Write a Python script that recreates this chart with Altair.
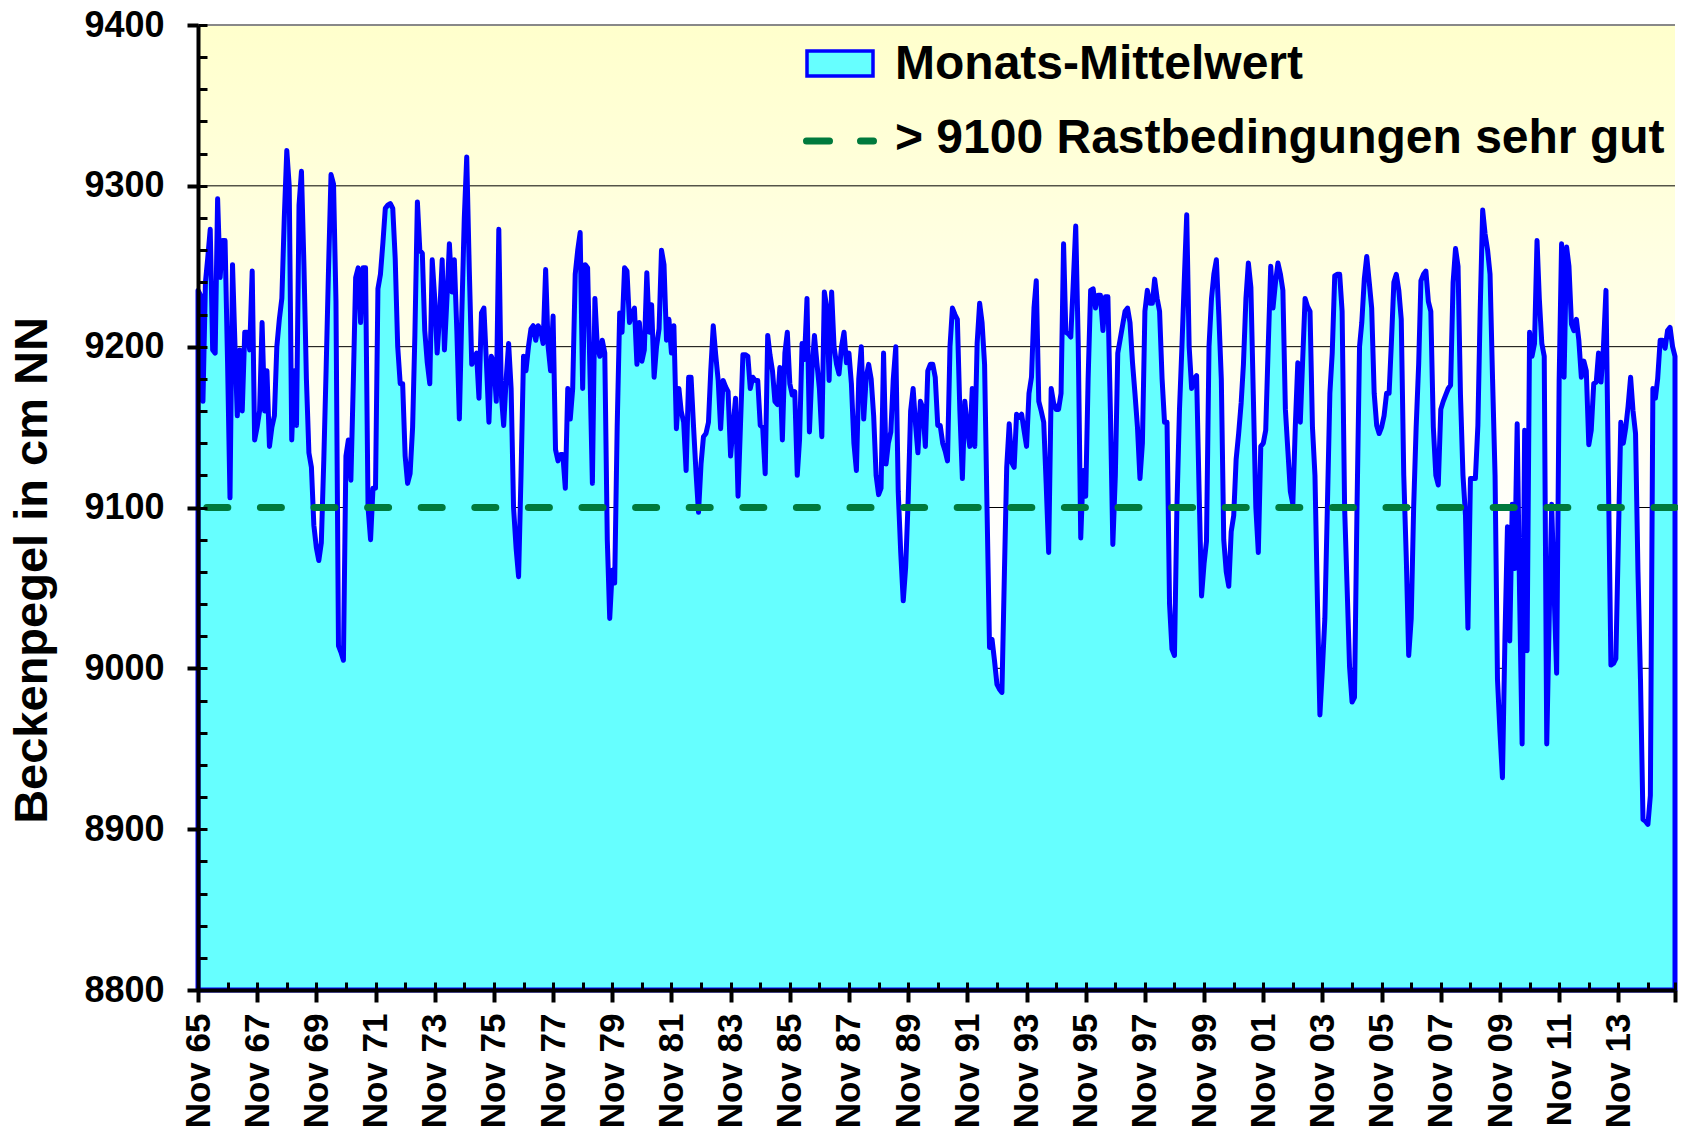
import altair as alt
import pandas as pd

# Monthly mean basin level (cm NN), Nov 1965 - Oct 2015
levels_1965_1975 = [
    9235, 9232, 9166, 9240, 9255, 9273, 9198, 9196, 9292, 9243, 9266, 9266,
    9190, 9106, 9251, 9200, 9157, 9198, 9160, 9209, 9209, 9198, 9247, 9142,
    9150, 9160, 9215, 9160, 9185, 9138, 9150, 9157, 9200, 9217, 9230, 9280,
    9322, 9300, 9142, 9185, 9151, 9288, 9309, 9250, 9180, 9134, 9125, 9089,
    9075, 9067, 9078, 9130, 9185, 9250, 9307, 9301, 9228, 9014, 9010, 9005,
    9132, 9142, 9117, 9180, 9243, 9249, 9215, 9249, 9249, 9100, 9080, 9112,
    9112, 9236, 9245, 9265, 9286, 9288, 9289, 9286, 9255, 9200, 9177, 9177,
    9132, 9115, 9121, 9150, 9207, 9290, 9260, 9258, 9210, 9190, 9177, 9254,
    9230, 9196, 9220, 9254, 9198, 9230, 9264, 9234, 9254, 9210, 9155, 9220,
    9280, 9318, 9249, 9189, 9192, 9196, 9168, 9221, 9224, 9190, 9153, 9194,
]
levels_1975_1985 = [
    9190, 9166, 9273, 9170, 9151, 9180, 9202, 9174, 9100, 9075, 9057, 9120,
    9194, 9185, 9200, 9211, 9213, 9204, 9213, 9210, 9202, 9248, 9200, 9185,
    9219, 9136, 9129, 9133, 9133, 9112, 9174, 9155, 9174, 9245, 9260, 9271,
    9174, 9251, 9249, 9180, 9115, 9230, 9200, 9194, 9204, 9196, 9080, 9031,
    9061, 9053, 9150, 9221, 9209, 9249, 9247, 9215, 9220, 9224, 9189, 9215,
    9191, 9198, 9246, 9209, 9226, 9181, 9200, 9211, 9260, 9251, 9204, 9217,
    9196, 9213, 9149, 9174, 9160, 9153, 9123, 9181, 9181, 9150, 9121, 9097,
    9127, 9144, 9146, 9153, 9185, 9213, 9195, 9179, 9149, 9179, 9175, 9172,
    9132, 9150, 9168, 9107, 9150, 9195, 9195, 9194, 9174, 9181, 9179, 9179,
    9151, 9150, 9121, 9207, 9195, 9185, 9166, 9164, 9187, 9142, 9196, 9209,
]
levels_1985_1995 = [
    9177, 9170, 9172, 9120, 9142, 9202, 9192, 9230, 9147, 9185, 9207, 9190,
    9174, 9144, 9234, 9224, 9179, 9234, 9200, 9189, 9183, 9200, 9209, 9190,
    9196, 9177, 9140, 9123, 9180, 9200, 9155, 9181, 9189, 9180, 9157, 9120,
    9108, 9112, 9196, 9127, 9140, 9147, 9180, 9200, 9110, 9072, 9042, 9063,
    9105, 9160, 9174, 9151, 9134, 9166, 9162, 9138, 9185, 9189, 9189, 9181,
    9151, 9151, 9140, 9135, 9129, 9200, 9224, 9220, 9217, 9160, 9118, 9166,
    9150, 9138, 9174, 9138, 9202, 9227, 9215, 9189, 9100, 9013, 9018, 9005,
    8990, 8987, 8985, 9060, 9125, 9152, 9128, 9125, 9158, 9156, 9158, 9148,
    9138, 9171, 9181, 9224, 9241, 9166, 9160, 9153, 9115, 9072, 9174, 9165,
    9161, 9161, 9171, 9264, 9209, 9208, 9206, 9240, 9275, 9202, 9081, 9123,
]
levels_1995_2005 = [
    9107, 9180, 9235, 9236, 9224, 9232, 9232, 9210, 9231, 9231, 9160, 9077,
    9120, 9196, 9205, 9214, 9222, 9224, 9215, 9190, 9171, 9150, 9118, 9140,
    9222, 9235, 9227, 9227, 9242, 9230, 9222, 9180, 9153, 9153, 9040, 9012,
    9008, 9100, 9160, 9200, 9240, 9282, 9200, 9174, 9180, 9182, 9110, 9045,
    9065, 9079, 9200, 9230, 9245, 9254, 9220, 9180, 9080, 9060, 9051, 9085,
    9095, 9130, 9146, 9165, 9189, 9230, 9252, 9237, 9170, 9100, 9072, 9138,
    9140, 9148, 9200, 9250, 9224, 9240, 9252, 9245, 9235, 9161, 9135, 9110,
    9102, 9150, 9190, 9153, 9190, 9230, 9225, 9222, 9150, 9120, 9040, 8971,
    9000, 9031, 9100, 9171, 9196, 9244, 9245, 9245, 9222, 9100, 9050, 9001,
    8979, 8982, 9100, 9200, 9215, 9242, 9256, 9240, 9224, 9171, 9151, 9146,
]
levels_2005_2015 = [
    9150, 9157, 9171, 9171, 9202, 9240, 9245, 9235, 9217, 9120, 9069, 9008,
    9031, 9100, 9150, 9189, 9241, 9245, 9247, 9228, 9222, 9150, 9120, 9114,
    9161, 9166, 9170, 9174, 9176, 9240, 9261, 9250, 9170, 9120, 9095, 9025,
    9118, 9118, 9118, 9151, 9222, 9285, 9270, 9260, 9245, 9180, 9120, 8993,
    8960, 8932, 9019, 9088, 9017, 9102, 9062, 9152, 9045, 8953, 9148, 9011,
    9209, 9194, 9202, 9266, 9230, 9202, 9194, 8953, 9031, 9102, 9045, 8997,
    9179, 9264, 9181, 9262, 9250, 9214, 9210, 9217, 9204, 9181, 9191, 9185,
    9139, 9148, 9177, 9178, 9196, 9178, 9200, 9235, 9120, 9002, 9003, 9006,
    9080, 9153, 9140, 9150, 9163, 9181, 9160, 9146, 9060, 8993, 8906, 8905,
    8903, 8921, 9174, 9168, 9180, 9204, 9204, 9199, 9210, 9212, 9200, 9194,
]
levels = (levels_1965_1975 + levels_1975_1985 + levels_1985_1995
          + levels_1995_2005 + levels_2005_2015)

grid_values = [8900, 9000, 9100, 9200, 9300]
top_value = [9400]
threshold = [9100]
y_major = [8800, 8900, 9000, 9100, 9200, 9300, 9400]
y_minor = list(range(8800, 9401, 20))
label_years = list(range(1965, 2014, 2))
tick_years = list(range(1965, 2015))
legend_labels = ["Monats-Mittelwert", "> 9100 Rastbedingungen sehr gut"]

months = pd.date_range("1965-11-01", periods=len(levels), freq="MS")
df = pd.DataFrame({"date": months, "level": levels})

W, H = 1477, 965
FONT = "Liberation Sans"
GREEN = "#007A3D"
CYAN = "#66FFFF"
BLUE = "#0000FF"

start = alt.DateTime(year=1965, month=11, date=1)
end = alt.DateTime(year=2015, month=10, date=1)
x_scale = alt.Scale(domain=[start, end])
y_scale = alt.Scale(domain=[8800, 9400], nice=False, zero=False)

x_major = alt.Axis(
    values=[alt.DateTime(year=y, month=11, date=1) for y in label_years] + [end],
    format="%b %y",
    labelExpr="year(datum.value) >= 2015 ? '' : datum.label",
    labelAngle=-90, labelFontSize=35, labelFont=FONT, labelFontWeight="bold",
    labelColor="black", labelPadding=11, labelOverlap=False, labelFlush=False,
    labelBound=False, tickSize=12, tickWidth=4, tickColor="black",
    domainWidth=4, domainColor="black", grid=False, title=None, zindex=2,
    orient="bottom",
)
x_minor_axis = alt.Axis(
    values=[alt.DateTime(year=y, month=11, date=1) for y in tick_years] + [end],
    labels=False, domain=False, grid=False, tickSize=8, tickWidth=3,
    tickColor="black", offset=-8, title=None, zindex=2, orient="bottom",
)
y_major_axis = alt.Axis(
    values=y_major, format="d", labelFontSize=36, labelFont=FONT,
    labelFontWeight="bold", labelColor="black", labelPadding=23, tickSize=11,
    tickWidth=4, tickColor="black", domainWidth=4, domainColor="black",
    grid=False, title="Beckenpegel in cm NN", titleFont=FONT, titleFontSize=47,
    titleFontWeight="bold", titleColor="black", titleX=-152, titleY=545,
    titleAngle=270, titleAlign="center", titleBaseline="alphabetic",
    zindex=2, orient="left",
)
y_minor_axis = alt.Axis(
    values=y_minor, labels=False, domain=False, grid=False, tickSize=9,
    tickWidth=3, tickColor="black", offset=-9, title=None, zindex=2,
    orient="left",
)

one = pd.DataFrame({"k": [0]})

bg = alt.Chart(one).mark_rect(
    fill=alt.Gradient(
        gradient="linear",
        stops=[alt.GradientStop(offset=0, color="#FFFFCC"),
               alt.GradientStop(offset=0.55, color="#FFFFFF")],
        x1=0, x2=0, y1=0, y2=1,
    )
).encode(x=alt.value(0), x2=alt.value(W), y=alt.value(0), y2=alt.value(H))

grid = alt.Chart(pd.DataFrame({"v": grid_values})).mark_rule(
    color="black", strokeWidth=1
).encode(y=alt.Y("v:Q", scale=y_scale, axis=None))

top = alt.Chart(pd.DataFrame({"v": top_value})).mark_rule(
    color="#888888", strokeWidth=2
).encode(y=alt.Y("v:Q", scale=y_scale, axis=None))

area = alt.Chart(df).mark_area(
    fill=CYAN, fillOpacity=1, stroke=BLUE, strokeWidth=5, strokeJoin="round"
).encode(
    x=alt.X("date:T", scale=x_scale, axis=x_major),
    y=alt.Y("level:Q", scale=y_scale, axis=y_major_axis),
    y2=alt.datum(8800),
)

thresh = alt.Chart(pd.DataFrame({"v": threshold})).mark_rule(
    color=GREEN, strokeWidth=7, strokeDash=[21, 32.6], strokeCap="round"
).encode(y=alt.Y("v:Q", scale=y_scale, axis=None))

minor = alt.Chart(df).mark_point(opacity=0).encode(
    x=alt.X("date:T", scale=x_scale, axis=x_minor_axis),
    y=alt.Y("level:Q", scale=y_scale, axis=y_minor_axis),
)

leg_rect = alt.Chart(one).mark_rect(
    fill=CYAN, stroke=BLUE, strokeWidth=3.5
).encode(x=alt.value(609), x2=alt.value(675), y=alt.value(26), y2=alt.value(51))

leg_text1 = alt.Chart(one).mark_text(
    text=legend_labels[0], align="left", baseline="alphabetic", fontSize=48,
    fontWeight="bold", font=FONT, color="black"
).encode(x=alt.value(697), y=alt.value(54))

leg_dash = alt.Chart(one).mark_rule(
    color=GREEN, strokeWidth=7, strokeDash=[23, 31], strokeCap="round"
).encode(x=alt.value(608.5), x2=alt.value(675.5), y=alt.value(116), y2=alt.value(116))

leg_text2 = alt.Chart(one).mark_text(
    text=legend_labels[1], align="left", baseline="alphabetic", fontSize=48,
    fontWeight="bold", font=FONT, color="black"
).encode(x=alt.value(697), y=alt.value(128))

chart = alt.layer(
    bg, grid, top, area, thresh, minor, leg_rect, leg_text1, leg_dash, leg_text2
).resolve_axis(x="independent", y="independent").properties(
    width=W, height=H,
    autosize=alt.AutoSizeParams(type="none"),
    padding={"left": 190, "top": 17, "right": 3, "bottom": 139},
    background="white",
).configure_view(stroke=None)

chart.save("out.html", embed_options={"renderer": "svg", "actions": False})
